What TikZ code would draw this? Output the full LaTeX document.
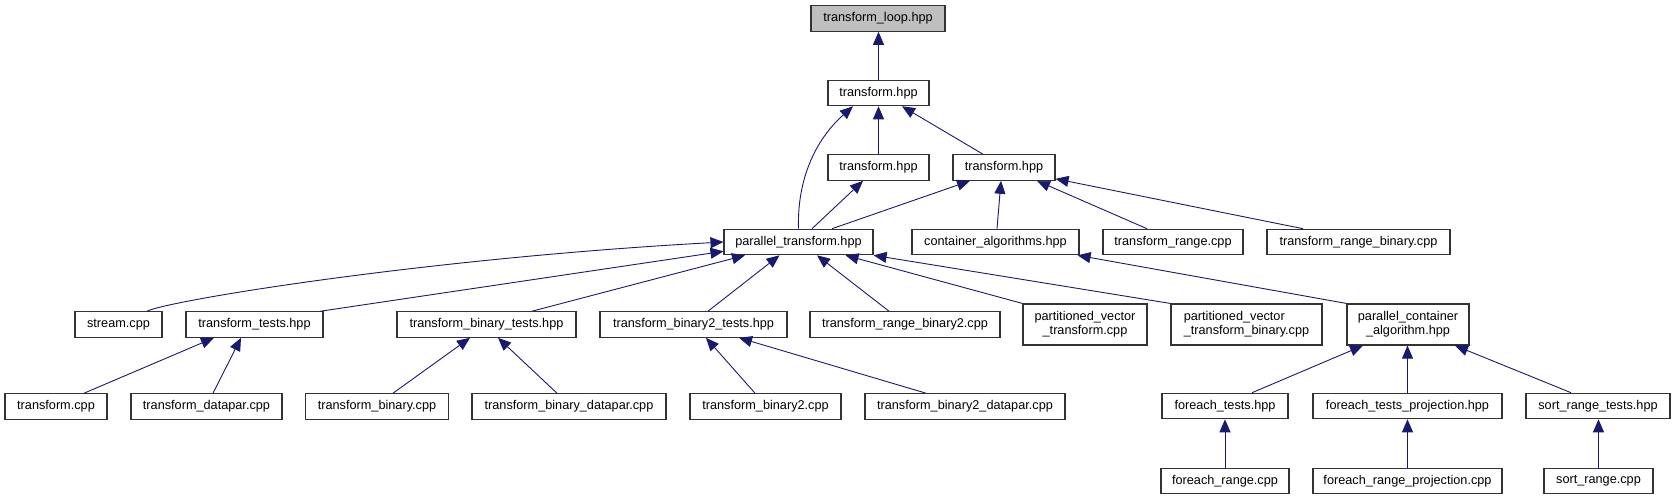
\documentclass[tikz,border=0pt]{standalone}
\usepackage{fontspec}
\setmainfont{Liberation Sans}
\usetikzlibrary{arrows.meta}
\definecolor{edgeblue}{HTML}{191970}
\definecolor{rootgray}{HTML}{BFBFBF}
\tikzset{
  box/.style={draw=black!80, line width=1.1pt, fill=white, inner sep=0pt, minimum height=25.5pt, font=\fontsize{12.7}{14}\selectfont},
  tall/.style={box, minimum height=41pt, align=center},
  edge/.style={draw=edgeblue, line width=0.9pt, -{Triangle[length=13pt,width=11pt]}}
}
\begin{document}
\begin{tikzpicture}[x=1pt,y=-1pt]
\useasboundingbox (0,0) rectangle (1676,500);
% row 0-3
\node[box, fill=rootgray, minimum width=134pt] (loop) at (878,18.5) {transform\_loop.hpp};
\node[box, minimum width=101pt] (t1) at (878.5,93) {transform.hpp};
\node[box, minimum width=101pt] (t2) at (878.5,167.5) {transform.hpp};
\node[box, minimum width=102pt] (t3) at (1004,167.5) {transform.hpp};
\node[box, minimum width=149pt] (ptr) at (798.5,242) {parallel\_transform.hpp};
\node[box, minimum width=167pt] (cal) at (995.5,242) {container\_algorithms.hpp};
\node[box, minimum width=140pt] (trc) at (1173,242) {transform\_range.cpp};
\node[box, minimum width=183pt] (trbc) at (1358.5,242) {transform\_range\_binary.cpp};
% row 4
\node[box, minimum width=87pt] (stream) at (118.5,324.5) {stream.cpp};
\node[box, minimum width=137pt] (tt) at (254.5,324.5) {transform\_tests.hpp};
\node[box, minimum width=179pt] (tbt) at (486.5,324.5) {transform\_binary\_tests.hpp};
\node[box, minimum width=187pt] (tb2t) at (693.5,324.5) {transform\_binary2\_tests.hpp};
\node[box, minimum width=190pt] (trb2) at (905,324.5) {transform\_range\_binary2.cpp};
\node[tall, minimum width=124pt] (pvt) at (1085,324.5) {partitioned\_vector\\\_transform.cpp};
\node[tall, minimum width=151pt, align=left] (pvtb) at (1246.5,324.5) {partitioned\_vector\\\_transform\_binary.cpp};
\node[tall, minimum width=122pt] (pca) at (1408,324.5) {parallel\_container\\\_algorithm.hpp};
% row 5
\node[box, minimum width=102pt] (tcpp) at (56,406.5) {transform.cpp};
\node[box, minimum width=151pt] (tdp) at (206.5,406.5) {transform\_datapar.cpp};
\node[box, minimum width=143pt] (tbc) at (377,406.5) {transform\_binary.cpp};
\node[box, minimum width=194pt] (tbdp) at (569,406.5) {transform\_binary\_datapar.cpp};
\node[box, minimum width=151pt] (tb2c) at (765.5,406.5) {transform\_binary2.cpp};
\node[box, minimum width=200pt] (tb2dp) at (965,406.5) {transform\_binary2\_datapar.cpp};
\node[box, minimum width=126pt] (ft) at (1225,406) {foreach\_tests.hpp};
\node[box, minimum width=189pt] (ftp) at (1407.5,406) {foreach\_tests\_projection.hpp};
\node[box, minimum width=144pt] (srt) at (1598,406) {sort\_range\_tests.hpp};
% row 6
\node[box, minimum width=128pt] (frc) at (1225,481) {foreach\_range.cpp};
\node[box, minimum width=189pt] (frp) at (1407.5,481) {foreach\_range\_projection.cpp};
\node[box, minimum width=109pt] (src) at (1598.5,481) {sort\_range.cpp};
% edges
\draw[edge] (t1.north) -- (t1.north |- loop.south);
\draw[edge] (t2.north) -- (t1.south);
\draw[edge] ([xshift=-21pt]t3.north) -- ([xshift=23.5pt]t1.south);
\draw[edge] (ptr.north) .. controls (797,180) and (815,140) .. ([xshift=-25.5pt]t1.south);
\draw[edge] ([xshift=13.5pt]ptr.north) -- ([xshift=-15.5pt]t2.south);
\draw[edge] ([xshift=33.5pt]ptr.north) -- ([xshift=-34pt]t3.south);
\draw[edge] ([xshift=1.5pt]cal.north) -- ([xshift=-3pt]t3.south);
\draw[edge] ([xshift=-26pt]trc.north) -- ([xshift=33pt]t3.south);
\draw[edge] ([xshift=-55.5pt]trbc.north) -- ([yshift=2pt]t3.south east);
\draw[edge] ([xshift=28.5pt]stream.north) .. controls (170,300) and (430,258) .. (ptr.west);
\draw[edge] ([xshift=-3pt]tt.north east) -- ([yshift=4pt]ptr.south west);
\draw[edge] ([xshift=45.5pt]tbt.north) -- ([xshift=-53.5pt]ptr.south);
\draw[edge] ([xshift=14.5pt]tb2t.north) -- ([xshift=-19pt]ptr.south);
\draw[edge] ([xshift=-16pt]trb2.north) -- ([xshift=18.5pt]ptr.south);
\draw[edge] (pvt.north west) -- ([xshift=47pt]ptr.south);
\draw[edge] (pvtb.north west) -- (ptr.south east);
\draw[edge] (pca.north west) -- ([xshift=-2pt]cal.south east);
\draw[edge] ([xshift=28pt]tcpp.north) -- ([xshift=-40.5pt]tt.south);
\draw[edge] ([xshift=6.5pt]tdp.north) -- ([xshift=-13.5pt]tt.south);
\draw[edge] ([xshift=16pt]tbc.north) -- ([xshift=-16.5pt]tbt.south);
\draw[edge] ([xshift=-12pt]tbdp.north) -- ([xshift=11.5pt]tbt.south);
\draw[edge] ([xshift=-10.5pt]tb2c.north) -- ([xshift=12.5pt]tb2t.south);
\draw[edge] ([xshift=-39pt]tb2dp.north) -- ([xshift=45.5pt]tb2t.south);
\draw[edge] ([xshift=27pt]ft.north) -- ([xshift=-45pt]pca.south);
\draw[edge] (ftp.north) -- (ftp.north |- pca.south);
\draw[edge] ([xshift=-27pt]srt.north) -- ([xshift=47pt]pca.south);
\draw[edge] (frc.north) -- (ft.south);
\draw[edge] (frp.north) -- (ftp.south);
\draw[edge] (src.north) -- (src.north |- srt.south);
\end{tikzpicture}
\end{document}
